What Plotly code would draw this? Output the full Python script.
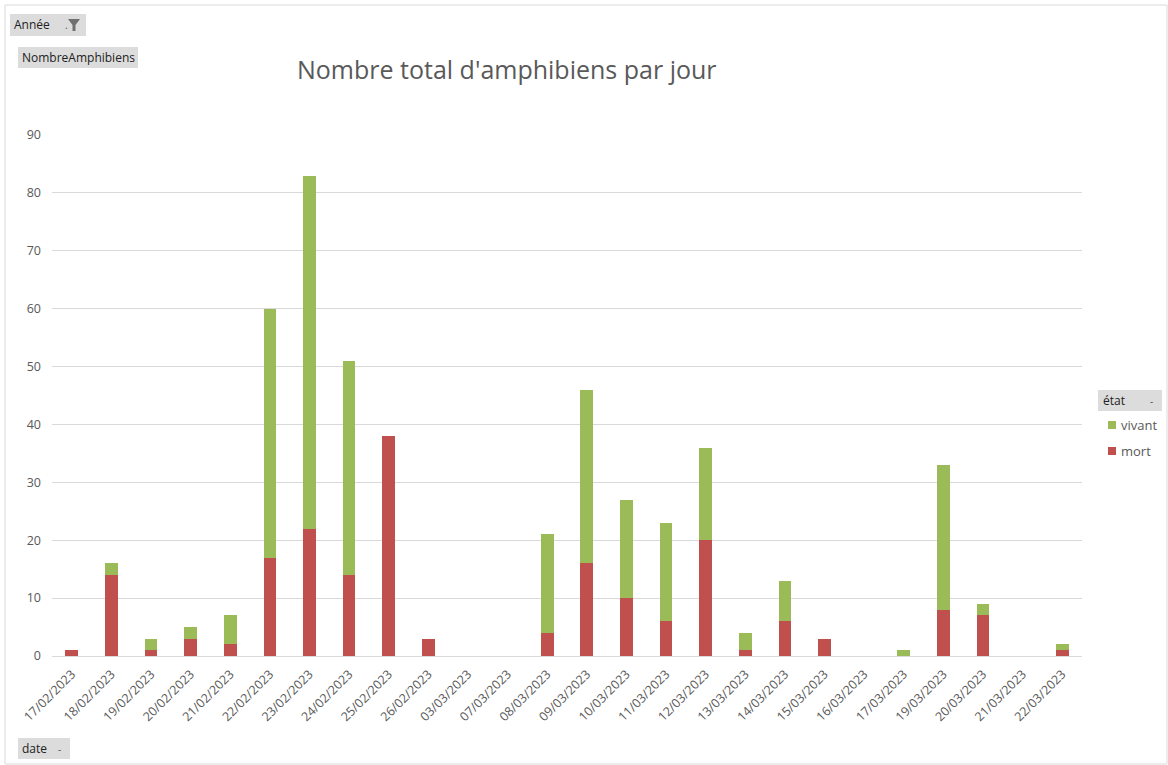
import plotly.graph_objects as go

dates = ["17/02/2023", "18/02/2023", "19/02/2023", "20/02/2023", "21/02/2023", "22/02/2023",
         "23/02/2023", "24/02/2023", "25/02/2023", "26/02/2023", "03/03/2023", "07/03/2023",
         "08/03/2023", "09/03/2023", "10/03/2023", "11/03/2023", "12/03/2023", "13/03/2023",
         "14/03/2023", "15/03/2023", "16/03/2023", "17/03/2023", "19/03/2023", "20/03/2023",
         "21/03/2023", "22/03/2023"]
mort = [1, 14, 1, 3, 2, 17, 22, 14, 38, 3, 0, 0, 4, 16, 10, 6, 20, 1, 6, 3, 0, 0, 8, 7, 0, 1]
vivant = [0, 2, 2, 2, 5, 43, 61, 37, 0, 0, 0, 0, 17, 30, 17, 17, 16, 3, 7, 0, 0, 1, 25, 2, 0, 1]
y_ticks = [0, 10, 20, 30, 40, 50, 60, 70, 80, 90]

W, H = 1168, 765
L, R, T, B = 52, 1082, 135, 656
RED, GREEN = "#C0504D", "#9BBB59"


def px(x):
    return (x - L) / (R - L)


def py(y):
    return (B - y) / (B - T)


FONT = "Open Sans"
GRAY = "#595959"

fig = go.Figure()
fig.add_trace(go.Bar(x=dates, y=mort, name="mort", marker=dict(color=RED, line=dict(width=0))))
fig.add_trace(go.Bar(x=dates, y=vivant, name="vivant", marker=dict(color=GREEN, line=dict(width=0))))

shapes = []
annotations = []

# outer border
shapes.append(dict(type="rect", xref="paper", yref="paper", x0=px(5), x1=px(1167), y0=py(5), y1=py(764),
                   line=dict(color="#D9D9D9", width=1), fillcolor="rgba(0,0,0,0)", layer="below"))


def button(x0, y0, x1, y1, text, tx, extra=None):
    shapes.append(dict(type="rect", xref="paper", yref="paper", x0=px(x0), x1=px(x1), y0=py(y0), y1=py(y1),
                       line=dict(width=0), fillcolor="#DCDCDC"))
    annotations.append(dict(xref="paper", yref="paper", x=px(tx), y=py((y0 + y1) / 2), text=text,
                            showarrow=False, xanchor="left", yanchor="middle",
                            font=dict(family=FONT, size=12, color="#222222")))
    if extra:
        annotations.append(dict(xref="paper", yref="paper", x=px(extra[0]), y=py((y0 + y1) / 2), text=extra[1],
                                showarrow=False, xanchor="center", yanchor="middle",
                                font=dict(family=FONT, size=10, color="#555555")))


button(10, 14, 86, 36, "Année", 12, (66, "."))
# funnel icon
fx, fy = 74, 19
path = (f"M {px(fx - 6)} {py(fy)} L {px(fx + 6)} {py(fy)} L {px(fx + 1.5)} {py(fy + 6)} "
        f"L {px(fx + 1.5)} {py(fy + 12)} L {px(fx - 1.5)} {py(fy + 12)} L {px(fx - 1.5)} {py(fy + 6)} Z")
shapes.append(dict(type="path", xref="paper", yref="paper", path=path, fillcolor="#707070", line=dict(width=0)))

button(18, 47, 138, 68, "NombreAmphibiens", 20)
button(18, 738, 70, 759, "date", 20, (59, "-"))
button(1098, 390, 1162, 411, "état", 1101, (1151, "-"))

# custom legend
for name, color, yc in [("vivant", GREEN, 425), ("mort", RED, 451)]:
    shapes.append(dict(type="rect", xref="paper", yref="paper", x0=px(1108), x1=px(1116), y0=py(yc - 4),
                       y1=py(yc + 4), line=dict(width=0), fillcolor=color))
    annotations.append(dict(xref="paper", yref="paper", x=px(1119), y=py(yc), text=name, showarrow=False,
                            xanchor="left", yanchor="middle", font=dict(family=FONT, size=13, color=GRAY)))

# title
annotations.append(dict(xref="paper", yref="paper", x=px(507), y=py(69), text="Nombre total d'amphibiens par jour",
                        showarrow=False, xanchor="center", yanchor="middle",
                        font=dict(family=FONT, size=25, color=GRAY)))

fig.update_layout(
    width=W, height=H,
    margin=dict(l=L, r=W - R, t=T, b=H - B, pad=0),
    barmode="stack",
    bargap=0.68,
    plot_bgcolor="white",
    paper_bgcolor="white",
    font=dict(family=FONT, size=12, color=GRAY),
    showlegend=False,
    shapes=shapes,
    annotations=annotations,
    xaxis=dict(type="category", tickangle=-45, showgrid=False, showline=True, linecolor="#D9D9D9",
               ticks="", tickfont=dict(family=FONT, size=12.5, color=GRAY), fixedrange=True,
               ticklabelstandoff=5),
    yaxis=dict(range=[0, 90], tickvals=y_ticks, showgrid=True, gridcolor="#D9D9D9", zeroline=False,
               showline=False, ticks="", tickfont=dict(family=FONT, size=12.5, color=GRAY), ticklabelstandoff=10),
)

fig.write_html("out.html", config={"displayModeBar": False},
               post_script="document.body.style.margin='0';document.body.style.overflow='hidden';")
